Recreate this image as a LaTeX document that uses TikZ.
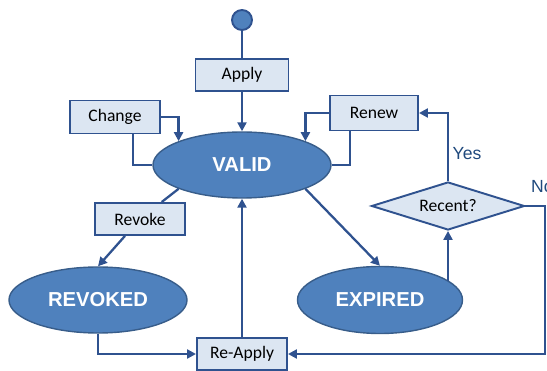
\documentclass[tikz,border=0pt]{standalone}
\usepackage{fontspec}
\setmainfont{Carlito}
\newfontfamily\statefont{Liberation Sans}
\usepackage{tikz}
\usetikzlibrary{positioning,arrows.meta,calc,shapes.geometric}
\definecolor{dLine}{RGB}{47,82,143}
\definecolor{dFill}{RGB}{220,230,242}
\definecolor{sFill}{RGB}{79,129,189}
\definecolor{sLine}{RGB}{56,93,138}
\definecolor{dText}{RGB}{31,73,125}
\tikzset{
  evt/.style={rectangle, draw=dLine, fill=dFill, line width=1.1pt,
              minimum width=18mm, minimum height=6.4mm, inner sep=1pt,
              font=\fontsize{10}{12}\selectfont},
  phase/.style={ellipse, draw=sLine, fill=sFill, line width=0.8pt, text=white,
                minimum width=35.6mm, minimum height=13.2mm, inner sep=0pt,
                font=\statefont\bfseries\fontsize{11.5}{13}\selectfont},
  decision/.style={diamond, aspect=3.2, draw=dLine, fill=dFill, line width=1.1pt,
                   minimum width=30.6mm, minimum height=9.6mm, inner sep=0pt,
                   font=\fontsize{10}{12}\selectfont},
  startpt/.style={circle, draw=dLine, fill=sFill, line width=1.1pt,
                  minimum size=4mm, inner sep=0pt},
  flow/.style={-{Triangle[length=1.8mm,width=1.8mm]}, draw=dLine, line width=1.3pt},
  link/.style={draw=dLine, line width=1.3pt},
  lbl/.style={font=\statefont\fontsize{10}{12}\selectfont, text=dText, inner sep=2pt},
}

\begin{document}
\begin{tikzpicture}
  \useasboundingbox (0,0) rectangle (10.94,7.42);

  % states
  \node[phase] (valid) at (4.84,4.12){VALID};
  \node[phase] (revoked) at (1.96,1.42){REVOKED};
  \node[phase, minimum width=33mm, minimum height=13.4mm] (expired) at (7.60,1.42){EXPIRED};

  % start point and events
  \node[startpt] (start) at (4.84,7.02){};
  \node[evt, minimum width=18.6mm] (apply) at (4.84,5.92){Apply};
  \node[evt, minimum height=6.6mm] (change) at (2.30,5.08){Change};
  \node[evt, minimum width=17.6mm, minimum height=7mm] (renew) at (7.48,5.16){Renew};
  \node[evt] (revoke) at (2.80,3.04){Revoke};
  \node[evt] (reapply) at (4.84,0.34){Re-Apply};
  \node[decision] (recent) at (8.96,3.30){Recent?};
  \coordinate (ncorner) at (10.90,3.30);

  % apply
  \draw[link] (start) -- (apply);
  \draw[flow] (apply) -- (valid);

  % change and renew loops
  \draw[flow] (change.east) -| (valid.north west);
  \draw[link] ($(change.south)+(0.36,0)$) |- (valid.west);
  \draw[flow] (renew.west) -| (valid.north east);
  \draw[link] ($(renew.south)+(-0.48,0)$) |- (valid.east);

  % revoke
  \draw[link] (valid.south west) -- (revoke);
  \draw[flow] (revoke) -- (revoked.north);

  % expiry and decision
  \draw[flow] (valid.south east) -- (expired.north);
  \draw[flow] (recent.south |- expired.15) -- (recent.south);
  \draw[flow] (recent.north) |- node[lbl, right, pos=0.2]{Yes} (renew.east);
  \draw[flow] (recent.east) -- node[lbl, anchor=south west, pos=0.05, yshift=5pt]{No}
    (ncorner) |- (reapply.east);

  % re-apply
  \draw[flow] (revoked.south) |- (reapply.west);
  \draw[flow] (reapply) -- (valid);
\end{tikzpicture}
\end{document}
